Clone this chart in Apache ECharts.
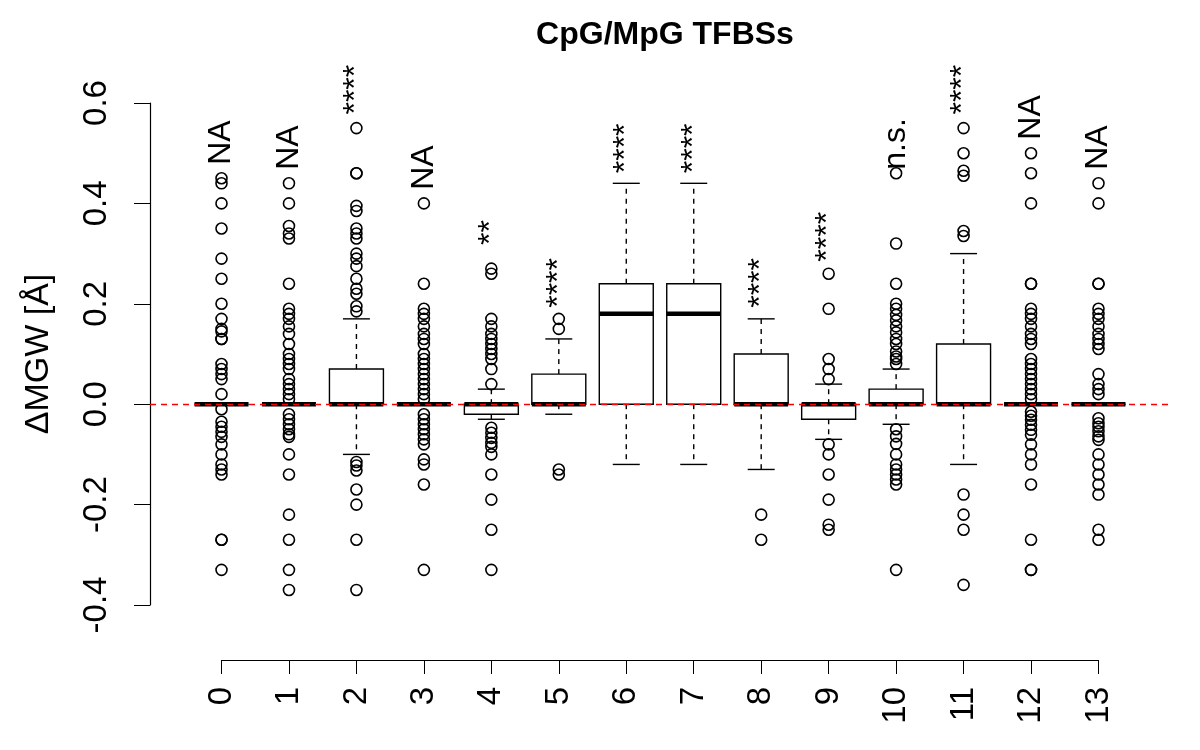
<!DOCTYPE html>
<html>
<head>
<meta charset="utf-8">
<script src="https://cdn.jsdelivr.net/npm/echarts@6/dist/echarts.min.js"></script>
<style>html,body{margin:0;padding:0;background:#fff}#chart{width:1200px;height:750px}</style>
</head>
<body>
<div id="chart"></div>
<script>
const categories = ['0','1','2','3','4','5','6','7','8','9','10','11','12','13'];
const whiskerLow  = [0, 0, -0.10, 0, -0.03, -0.02, -0.12, -0.12, -0.13, -0.07, -0.04, -0.12, 0, 0];
const q1          = [0, 0, 0, 0, -0.02, 0, 0, 0, 0, -0.03, 0, 0, 0, 0];
const median      = [0, 0, 0, 0, 0, 0, 0.18, 0.18, 0, 0, 0, 0, 0, 0];
const q3          = [0, 0, 0.07, 0, 0, 0.06, 0.24, 0.24, 0.10, 0, 0.03, 0.12, 0, 0];
const whiskerHigh = [0, 0, 0.17, 0, 0.03, 0.13, 0.44, 0.44, 0.17, 0.04, 0.07, 0.30, 0, 0];
const outliers = [
  [0.45, 0.44, 0.40, 0.35, 0.29, 0.25, 0.20, 0.17, 0.15, 0.145, 0.13, 0.13, 0.08, 0.07, 0.06, 0.05, 0.02, -0.01, -0.035, -0.045, -0.055, -0.065, -0.08, -0.10, -0.12, -0.13, -0.14, -0.27, -0.27, -0.33],
  [0.44, 0.40, 0.355, 0.34, 0.33, 0.24, 0.19, 0.18, 0.17, 0.155, 0.14, 0.12, 0.10, 0.09, 0.08, 0.07, 0.05, 0.04, 0.03, 0.02, 0.01, -0.02, -0.03, -0.04, -0.05, -0.06, -0.065, -0.10, -0.14, -0.22, -0.27, -0.33, -0.37],
  [0.55, 0.46, 0.46, 0.395, 0.385, 0.35, 0.34, 0.33, 0.30, 0.29, 0.275, 0.25, 0.23, 0.22, 0.195, 0.185, -0.115, -0.122, -0.132, -0.17, -0.20, -0.27, -0.37],
  [0.40, 0.24, 0.19, 0.18, 0.17, 0.155, 0.14, 0.13, 0.12, 0.10, 0.09, 0.08, 0.07, 0.06, 0.05, 0.04, 0.03, 0.02, 0.01, -0.02, -0.03, -0.04, -0.05, -0.06, -0.07, -0.08, -0.11, -0.12, -0.16, -0.33],
  [0.27, 0.26, 0.17, 0.155, 0.14, 0.13, 0.12, 0.11, 0.10, 0.09, 0.07, 0.04, -0.047, -0.057, -0.067, -0.077, -0.085, -0.10, -0.14, -0.19, -0.25, -0.33],
  [0.17, 0.15, -0.13, -0.14],
  [],
  [],
  [-0.22, -0.27],
  [0.26, 0.19, 0.09, 0.07, 0.05, -0.08, -0.10, -0.14, -0.19, -0.24, -0.25],
  [0.46, 0.32, 0.24, 0.20, 0.19, 0.178, 0.167, 0.155, 0.143, 0.13, 0.12, 0.105, 0.095, 0.09, 0.08, -0.05, -0.064, -0.079, -0.10, -0.12, -0.13, -0.14, -0.15, -0.16, -0.33],
  [0.55, 0.50, 0.465, 0.455, 0.345, 0.335, -0.18, -0.22, -0.25, -0.36],
  [0.50, 0.46, 0.40, 0.24, 0.24, 0.19, 0.18, 0.17, 0.155, 0.14, 0.13, 0.12, 0.09, 0.08, 0.07, 0.06, 0.05, 0.04, 0.03, 0.02, 0.01, -0.015, -0.023, -0.031, -0.041, -0.051, -0.061, -0.08, -0.10, -0.12, -0.16, -0.27, -0.33, -0.33],
  [0.44, 0.40, 0.24, 0.24, 0.19, 0.18, 0.17, 0.155, 0.14, 0.13, 0.12, 0.11, 0.06, 0.04, 0.03, 0.02, -0.028, -0.038, -0.045, -0.054, -0.064, -0.071, -0.10, -0.12, -0.14, -0.16, -0.18, -0.25, -0.27]
];
const sigLabels = ['NA','NA','****','NA','**','****','****','****','****','****','n.s.','****','NA','NA'];
const sigLabelY = [0.477, 0.467, 0.577, 0.427, 0.317, 0.192, 0.46, 0.46, 0.192, 0.284, 0.467, 0.577, 0.527, 0.467];

const FONT = 'Liberation Sans, Arial, Helvetica, sans-serif';
const boxData = categories.map((c, i) => [i, whiskerLow[i], q1[i], median[i], q3[i], whiskerHigh[i]]);
const outlierData = [];
outliers.forEach((arr, i) => arr.forEach(v => outlierData.push([i, v])));
const sigData = categories.map((c, i) => [i, sigLabelY[i], sigLabels[i]]);

const chart = echarts.init(document.getElementById('chart'));
chart.setOption({
  animation: false,
  backgroundColor: '#fff',
  title: {
    text: 'CpG/MpG TFBSs', left: 660, top: 14, textAlign: 'center',
    textStyle: { fontFamily: FONT, fontSize: 32, fontWeight: 'bold', color: '#000' }
  },
  grid: [
    { left: 150, right: 30, top: 103, bottom: 145 },
    { left: 221.5, right: 101.5, top: 659, bottom: 90 }
  ],
  xAxis: [
    { gridIndex: 0, type: 'value', min: -1.06, max: 14.06, show: false },
    { gridIndex: 1, type: 'value', min: 0, max: categories.length - 1, interval: 1, position: 'bottom',
      axisLine: { show: true, onZero: false, lineStyle: { color: '#000', width: 1.2 } },
      axisTick: { show: true, length: 14, lineStyle: { color: '#000', width: 1 } },
      splitLine: { show: false },
      axisLabel: { rotate: 90, margin: 27, fontSize: 33, fontFamily: FONT, color: '#000',
        formatter: v => categories[Math.round(v)] } }
  ],
  yAxis: [
    { gridIndex: 0, type: 'value', min: -0.4, max: 0.6, interval: 0.2, position: 'left',
      name: 'ΔMGW [Å]', nameLocation: 'middle', nameRotate: 90, nameGap: 94,
      nameTextStyle: { fontFamily: FONT, fontSize: 34, color: '#000' },
      axisLine: { show: true, onZero: false, lineStyle: { color: '#000', width: 1.2 } },
      axisTick: { show: true, inside: false, length: 16, lineStyle: { color: '#000', width: 1 } },
      splitLine: { show: false },
      axisLabel: { rotate: 90, margin: 37, fontSize: 33, fontFamily: FONT, color: '#000',
        formatter: v => v.toFixed(1) } },
    { gridIndex: 1, type: 'value', min: 0, max: 1, show: false }
  ],
  series: [
    {
      type: 'custom', xAxisIndex: 0, yAxisIndex: 0, z: 2,
      data: boxData,
      encode: { x: 0, y: [1, 2, 3, 4, 5] },
      renderItem: function (params, api) {
        const x = api.value(0);
        const wl = api.coord([x, api.value(1)]);
        const b1 = api.coord([x, api.value(2)]);
        const md = api.coord([x, api.value(3)]);
        const b3 = api.coord([x, api.value(4)]);
        const wh = api.coord([x, api.value(5)]);
        const halfBox = api.size([0.8, 0])[0] / 2;
        const halfStaple = halfBox / 2;
        const cx = wl[0];
        const thin = { stroke: '#000', lineWidth: 1.4, fill: null };
        const dashed = { stroke: '#000', lineWidth: 1.4, lineDash: [5, 5], fill: null };
        return {
          type: 'group',
          children: [
            { type: 'line', shape: { x1: cx, y1: b3[1], x2: cx, y2: wh[1] }, style: dashed },
            { type: 'line', shape: { x1: cx, y1: b1[1], x2: cx, y2: wl[1] }, style: dashed },
            { type: 'line', shape: { x1: cx - halfStaple, y1: wh[1], x2: cx + halfStaple, y2: wh[1] }, style: thin },
            { type: 'line', shape: { x1: cx - halfStaple, y1: wl[1], x2: cx + halfStaple, y2: wl[1] }, style: thin },
            { type: 'rect', shape: { x: cx - halfBox, y: b3[1], width: halfBox * 2, height: b1[1] - b3[1] },
              style: { stroke: '#000', lineWidth: 1.4, fill: '#fff' } },
            { type: 'line', shape: { x1: cx - halfBox, y1: md[1], x2: cx + halfBox, y2: md[1] },
              style: { stroke: '#000', lineWidth: 4.5 } }
          ]
        };
      }
    },
    {
      type: 'scatter', xAxisIndex: 0, yAxisIndex: 0, z: 3, clip: false,
      data: outlierData,
      symbol: 'circle', symbolSize: 11,
      itemStyle: { color: 'rgba(0,0,0,0)', borderColor: '#000', borderWidth: 1.6, opacity: 1 },
      emphasis: { disabled: true },
      markLine: {
        silent: true, symbol: 'none', animation: false,
        label: { show: false },
        lineStyle: { color: '#ff0000', type: [6, 5], width: 1.3 },
        data: [{ yAxis: 0 }]
      }
    },
    {
      type: 'custom', xAxisIndex: 0, yAxisIndex: 0, z: 4, clip: false,
      data: sigData,
      encode: { x: 0, y: 1 },
      renderItem: function (params, api) {
        const p = api.coord([api.value(0), api.value(1)]);
        return {
          type: 'text', x: p[0], y: p[1], rotation: Math.PI / 2,
          style: { text: sigLabels[params.dataIndex], fontSize: 32, fontFamily: FONT, fill: '#000',
            textAlign: 'left', textVerticalAlign: 'middle', align: 'left', verticalAlign: 'middle' }
        };
      }
    }
  ]
});
</script>
</body>
</html>
